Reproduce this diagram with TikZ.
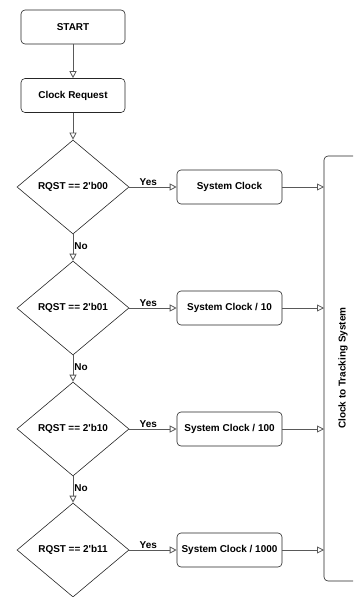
\documentclass[tikz,border=0pt]{standalone}
\usepackage{fontspec}
\newfontfamily\lsans{Liberation Sans}
\usetikzlibrary{shapes.geometric,arrows.meta}
\begin{document}
\begin{tikzpicture}[x=1bp,y=-1bp,
  every node/.style={font=\lsans\bfseries\fontsize{10}{12}\selectfont},
  rbox/.style={draw=black!85,line width=0.6bp,rounded corners=4bp,minimum width=104bp,minimum height=34bp,inner sep=0},
  dbox/.style={draw=black!85,line width=0.6bp,diamond,minimum width=112bp,minimum height=94bp,inner sep=0},
  conn/.style={draw=black!65,line width=0.8bp,-{Triangle[open,length=7bp,width=7bp,fill=white]}},
  lbl/.style={inner sep=1bp}]
\useasboundingbox (0,0) rectangle (353,597);
\clip (0,0) rectangle (353,597);
\node[rbox] (start) at (73,27) {START};
\node[rbox] (req) at (73,95.5) {Clock Request};
\node[dbox] (d1) at (73,187) {RQST == 2'b00};
\node[dbox] (d2) at (73,308) {RQST == 2'b01};
\node[dbox] (d3) at (73,429) {RQST == 2'b10};
\node[dbox] (d4) at (73,550) {RQST == 2'b11};
\node[rbox,minimum width=105bp] (c1) at (229.5,187) {System Clock};
\node[rbox,minimum width=105bp] (c2) at (229.5,308) {System Clock / 10};
\node[rbox,minimum width=105bp] (c3) at (229.5,429) {System Clock / 100};
\node[rbox,minimum width=105bp] (c4) at (229.5,550) {System Clock / 1000};
\draw[draw=black!85,line width=0.6bp,rounded corners=4bp] (380,156) -- (324,156) -- (324,581) -- (380,581);
\coordinate (big) at (324,368);
\node[rotate=90] (ct) at (343,368) {Clock to Tracking System};
\draw[conn] (start) -- (req);
\draw[conn] (req) -- (d1.north);
\draw[conn] (d1.south) -- node[lbl,right,pos=0.45] {No} (d2.north);
\draw[conn] (d2.south) -- node[lbl,right,pos=0.45] {No} (d3.north);
\draw[conn] (d3.south) -- node[lbl,right,pos=0.45] {No} (d4.north);
\draw[conn] (d1.east) -- node[lbl,above,pos=0.4] {Yes} (c1.west);
\draw[conn] (d2.east) -- node[lbl,above,pos=0.4] {Yes} (c2.west);
\draw[conn] (d3.east) -- node[lbl,above,pos=0.4] {Yes} (c3.west);
\draw[conn] (d4.east) -- node[lbl,above,pos=0.4] {Yes} (c4.west);
\draw[conn] (c1.east) -- (c1.east -| big);
\draw[conn] (c2.east) -- (c2.east -| big);
\draw[conn] (c3.east) -- (c3.east -| big);
\draw[conn] (c4.east) -- (c4.east -| big);
\end{tikzpicture}
\end{document}
